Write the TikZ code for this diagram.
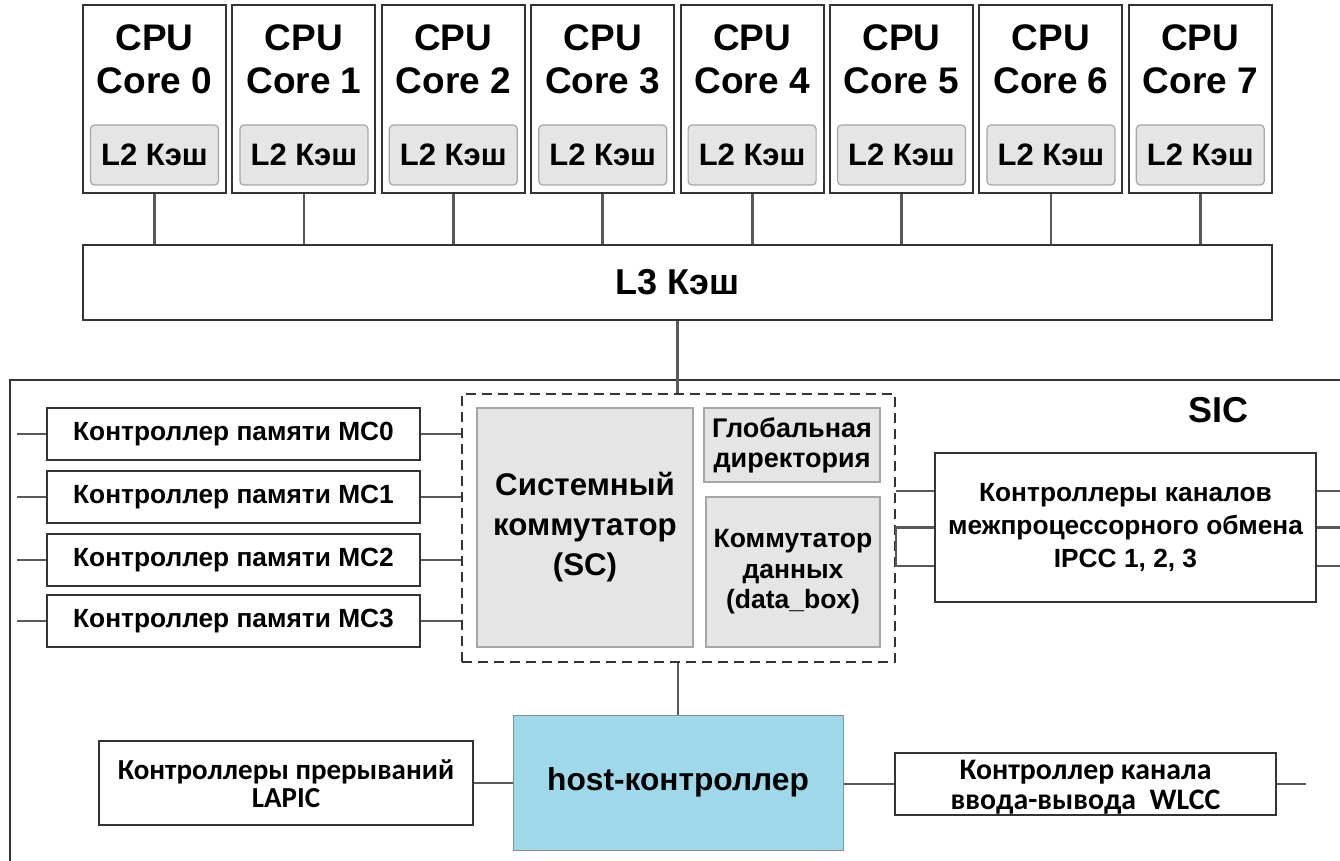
\documentclass[tikz,border=0pt]{standalone}
\usepackage{fontspec}
\setmainfont{Liberation Sans}
\newfontfamily\calib{Carlito}
\usetikzlibrary{calc}
\newcommand{\fsz}[2]{\fontsize{#1}{#2}\selectfont}
\definecolor{hostblue}{RGB}{158,216,233}
\definecolor{boxgray}{RGB}{229,229,229}
\tikzset{
 box/.style={draw=black!80, line width=2pt, fill=white, inner sep=0pt, align=center, font=\bfseries},
 gbox/.style={draw=black!35, line width=1.2pt, fill=boxgray, inner sep=0pt, align=center},
 conn/.style={draw=black!65, line width=2.8pt},
 lbl/.style={inner sep=0pt, align=center},
}
\begin{document}
\begin{tikzpicture}[x=1pt,y=-1pt]
\useasboundingbox (0,0) rectangle (1340,861);
\clip (0,0) rectangle (1340,861);
\fill[white] (0,0) rectangle (1340,861);

% SIC outer frame
\node[draw=black!80, line width=1.6pt, inner sep=0pt, minimum width=1400pt, minimum height=600pt, anchor=north west] (sicbox) at (9,379) {};
\node[lbl, font=\bfseries\fsz{36}{40}] (sic) at (1218,410) {SIC};

% L3
\node[box, minimum width=1189pt, minimum height=75pt, font=\bfseries\fsz{36}{40}] (l3) at (677.5,282.5) {L3 Кэш};

% cores
\foreach \i in {0,...,7}{
  \pgfmathsetmacro\cx{154.5+149.4*\i}
  \node[box, minimum width=143pt, minimum height=188pt] (c\i) at (\cx,99) {};
  \node[lbl, font=\bfseries\fsz{37}{43}] (ct\i) at (\cx,59) {CPU\\Core \i};
  \node[gbox, rounded corners=4pt, minimum width=128pt, minimum height=60pt, font=\bfseries\fsz{31}{32}] (lt\i) at (\cx,155) {L2 Кэш};
  \draw[conn] (c\i.south) -- (c\i.south |- l3.north);
}

% dashed SC block
\node[draw=black!80, line width=1.8pt, dash pattern=on 10pt off 6pt, inner sep=0pt, minimum width=433pt, minimum height=268pt] (dsh) at (678.5,528) {};
\draw[conn] (l3.south) -- (l3.south |- dsh.north);
\node[gbox, minimum width=216pt, minimum height=239pt, font=\bfseries\fsz{31.3}{40}] (sc) at (585,527.5) {Системный\\коммутатор\\(SC)};
\node[gbox, minimum width=176pt, minimum height=74pt, font=\bfseries\fsz{27}{30}] (gd) at (792,445) {Глобальная\\директория};
\node[gbox, minimum width=174pt, minimum height=150pt, font=\bfseries\fsz{26.5}{30.5}] (db) at (793,572) {Коммутатор\\данных\\(data\_box)};

% memory controllers
\foreach \n/\y in {0/434,1/497,2/560,3/621}{
  \node[box, minimum width=373pt, minimum height=52pt, font=\bfseries\fsz{26.3}{30}] (mc\n) at (233.5,\y) {Контроллер памяти MC\n};
  \coordinate (mcl\n) at (17,\y);
  \draw[conn] (mcl\n) -- (mc\n.west);
  \draw[conn] (mc\n.east) -- (mc\n.east -| dsh.west);
}

% IPCC
\node[box, minimum width=381pt, minimum height=149pt, font=\bfseries\fsz{26.3}{33}] (ipcc) at (1125.5,527.5) {Контроллеры каналов\\межпроцессорного обмена\\IPCC 1, 2, 3};
\draw[conn] ($(dsh.east)+(0,-37)$) -- ($(ipcc.west)+(0,-36.5)$);
\draw[conn] (ipcc.west) -- (ipcc.west -| dsh.east) -- ($(dsh.east)+(0,38)$) -- ($(ipcc.west)+(0,38.5)$);
\draw[conn] ($(ipcc.east)+(0,-36.5)$) -- ++(30,0);
\draw[conn] (ipcc.east) -- ++(30,0);
\draw[conn] ($(ipcc.east)+(0,38.5)$) -- ++(30,0);

% host controller row
\node[draw=black!45, line width=1pt, fill=hostblue, inner sep=0pt, minimum width=330pt, minimum height=135pt, font=\bfseries\fsz{31.7}{36}] (host) at (678,782.5) {host-контроллер};
\draw[conn] (host.north |- dsh.south) -- (host.north);
\node[box, minimum width=374pt, minimum height=84pt] (lapic) at (286,783) {};
\node[lbl, font=\calib\bfseries\fsz{29}{28}] (lapict) at ($(lapic.center)+(0,1)$) {Контроллеры прерываний\\LAPIC};
\node[box, minimum width=381pt, minimum height=62pt] (wlcc) at (1085.5,784) {};
\node[lbl, font=\calib\bfseries\fsz{29.8}{30}] (wlcct) at ($(wlcc.center)+(0,3)$) {Контроллер канала\\ввода-вывода~~WLCC};
\draw[conn] (lapic.east) -- (lapic.east -| host.west);
\draw[conn] (wlcc.west -| host.east) -- (wlcc.west);
\draw[conn] (wlcc.east) -- ++(29,0);
\end{tikzpicture}
\end{document}
